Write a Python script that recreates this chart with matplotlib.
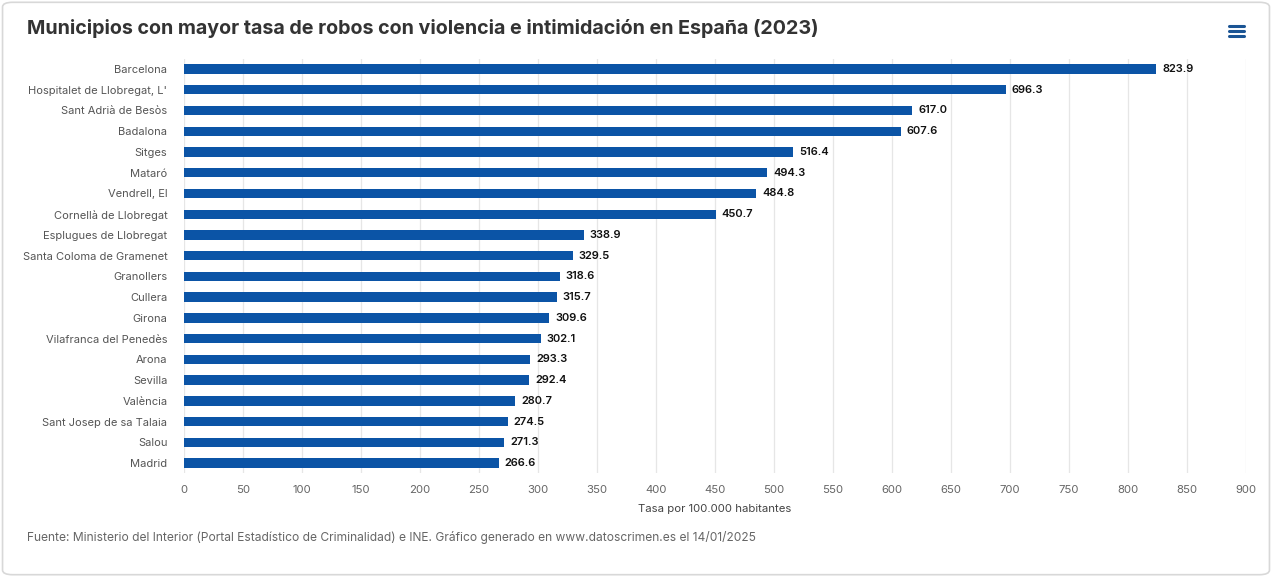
import matplotlib.pyplot as plt
from matplotlib.patches import FancyBboxPatch
from matplotlib.lines import Line2D

plt.rcParams['font.family'] = ['Inter', 'DejaVu Sans']

municipios = ["Barcelona", "Hospitalet de Llobregat, L'", "Sant Adrià de Besòs", "Badalona",
              "Sitges", "Mataró", "Vendrell, El", "Cornellà de Llobregat",
              "Esplugues de Llobregat", "Santa Coloma de Gramenet", "Granollers", "Cullera",
              "Girona", "Vilafranca del Penedès", "Arona", "Sevilla", "València",
              "Sant Josep de sa Talaia", "Salou", "Madrid"]
tasas = [823.9, 696.3, 617.0, 607.6, 516.4, 494.3, 484.8, 450.7, 338.9, 329.5,
         318.6, 315.7, 309.6, 302.1, 293.3, 292.4, 280.7, 274.5, 271.3, 266.6]
xticks = list(range(0, 901, 50))

BAR = "#0b54a6"
GRAY = "#666666"

fig = plt.figure(figsize=(12.72, 5.77), dpi=100, facecolor="white")
# card border
card = FancyBboxPatch((0.002, 0.004), 0.996, 0.992, boxstyle="round,pad=0,rounding_size=0.008",
                      transform=fig.transFigure, facecolor="none", edgecolor="#d8d8d8", lw=1.2)
fig.patches.append(card)

ax = fig.add_axes([0.1447, 0.1795, 0.8349, 0.7189])
ax.set_facecolor("none")
y = list(range(len(municipios)))
ax.barh(y, tasas, height=0.45, color=BAR, zorder=3)
for yi, v in zip(y, tasas):
    ax.text(v + 5, yi, f"{v:.1f}", va="center", ha="left", fontsize=8, fontweight="semibold",
            color="#111111", zorder=4)

ax.set_ylim(len(municipios) - 0.5, -0.5)
ax.set_xlim(0, 900)
ax.set_xticks(xticks)
ax.set_yticks(y)
ax.set_yticklabels(municipios)
ax.tick_params(axis="y", length=0, pad=12, labelsize=8, labelcolor="#555555")
ax.tick_params(axis="x", length=0, pad=8, labelsize=8.2, labelcolor=GRAY)
ax.grid(axis="x", color="#e6e6e6", lw=0.9, zorder=0)
for s in ax.spines.values():
    s.set_visible(False)
ax.set_xlabel("Tasa por 100.000 habitantes", fontsize=8.2, color="#444444", labelpad=7)

fig.text(0.0212, 0.951, "Municipios con mayor tasa de robos con violencia e intimidación en España (2023)",
         fontsize=14.2, fontweight="bold", color="#333333", va="center", ha="left")
fig.text(0.0212, 0.069, "Fuente: Ministerio del Interior (Portal Estadístico de Criminalidad) e INE. "
         "Gráfico generado en www.datoscrimen.es el 14/01/2025",
         fontsize=8.65, color=GRAY, va="center", ha="left")

# menu icon
for yy in (0.955, 0.946, 0.937):
    fig.add_artist(Line2D([0.9665, 0.978], [yy, yy], transform=fig.transFigure,
                          color="#1a5494", lw=2.2, solid_capstyle="round"))

fig.savefig("out.png", dpi=100)
